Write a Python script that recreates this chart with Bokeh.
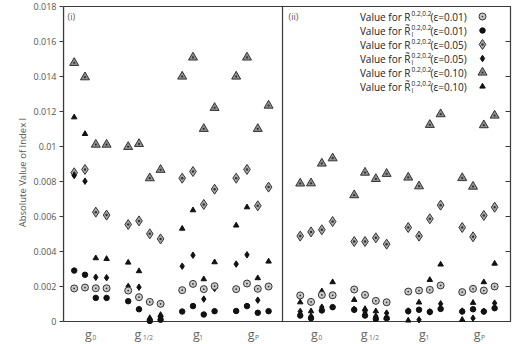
from bokeh.plotting import figure
from bokeh.models import Range1d, FixedTicker, Label
from bokeh.embed import file_html
from bokeh.resources import INLINE

# ---- data -------------------------------------------------------------
group_names = ["0", "1/2", "1", "P"]
y_ticks = [0, 0.002, 0.004, 0.006, 0.008, 0.01, 0.012, 0.014, 0.016, 0.018]
y_tick_labels = ["0", "0.002", "0.004", "0.006", "0.008", "0.01",
                 "0.012", "0.014", "0.016", "0.018"]

# panel (i): four points per group (g0, g1/2, g1, gP)
i_R_001 = [0.00189, 0.00194, 0.00190, 0.00190, 0.00177, 0.00139, 0.00112, 0.00101,
           0.00179, 0.00215, 0.00185, 0.00202, 0.00185, 0.00217, 0.00187, 0.00200]
i_Rt_001 = [0.00291, 0.00267, 0.00135, 0.00135, 0.00116, 0.00070, 0.00003, 0.00010,
            0.00057, 0.00088, 0.00040, 0.00059, 0.00060, 0.00088, 0.00050, 0.00059]
i_R_005 = [0.00850, 0.00869, 0.00625, 0.00608, 0.00554, 0.00575, 0.00501, 0.00472,
           0.00819, 0.00857, 0.00669, 0.00756, 0.00819, 0.00869, 0.00661, 0.00768]
i_Rt_005 = [0.00834, 0.00802, 0.00253, 0.00250, 0.00200, 0.00196, 0.00010, 0.00025,
            0.00316, 0.00379, 0.00128, 0.00189, 0.00328, 0.00381, 0.00122, 0.00200]
i_R_010 = [0.01478, 0.01396, 0.01011, 0.01011, 0.00998, 0.01015, 0.00819, 0.00867,
           0.01400, 0.01509, 0.01101, 0.01221, 0.01400, 0.01509, 0.01101, 0.01234]
i_Rt_010 = [0.01167, 0.01072, 0.00362, 0.00358, 0.00337, 0.00288, 0.00020, 0.00038,
            0.00531, 0.00636, 0.00242, 0.00339, 0.00549, 0.00653, 0.00248, 0.00343]

# panel (ii)
ii_R_001 = [0.00149, 0.00112, 0.00152, 0.00150, 0.00183, 0.00152, 0.00118, 0.00110,
            0.00171, 0.00177, 0.00181, 0.00206, 0.00168, 0.00187, 0.00177, 0.00200]
ii_Rt_001 = [0.00034, 0.00019, 0.00063, 0.00082, 0.00067, 0.00034, 0.00015, 0.00019,
             0.00059, 0.00067, 0.00055, 0.00072, 0.00057, 0.00070, 0.00057, 0.00076]
ii_R_005 = [0.00488, 0.00512, 0.00524, 0.00571, 0.00457, 0.00457, 0.00478, 0.00442,
            0.00537, 0.00488, 0.00587, 0.00665, 0.00537, 0.00484, 0.00606, 0.00653]
ii_Rt_005 = [0.00057, 0.00030, 0.00082, 0.00148, 0.00070, 0.00055, 0.00030, 0.00048,
             0.00060, 0.00010, 0.00055, 0.00101, 0.00060, 0.00019, 0.00058, 0.00105]
ii_R_010 = [0.00789, 0.00790, 0.00903, 0.00933, 0.00722, 0.00851, 0.00815, 0.00844,
            0.00823, 0.00773, 0.01124, 0.01185, 0.00820, 0.00771, 0.01122, 0.01177]
ii_Rt_010 = [0.00110, 0.00059, 0.00173, 0.00225, 0.00124, 0.00072, 0.00059, 0.00020,
             0.00006, 0.00109, 0.00238, 0.00326, 0.00010, 0.00107, 0.00225, 0.00331]

# ---- layout -----------------------------------------------------------
W, H = 513, 344
BL, BR, BT, BB = 63, 510, 6, 321           # plot box edges in pixels
X0, X1 = -0.99, 40.4                       # x data values at the box edges
Y0, Y1 = 0.0, 0.018
PANEL_SHIFT = [0.0, 20.93]                 # x offset of each panel
GROUP_STEP = 5
DIVIDER = 19.29
# horizontal nudges (x units) of the "g" and of its subscript per group
G_NUDGE = [-0.19, -0.59, -0.19, -0.11]
SUB_NUDGE = [0.37, 0.33, 0.26, 0.43]

FONT = "Open Sans"
GREY = "#555555"
LINE = "#3a3a3a"


def px_x(px):
    return X0 + (px - BL) * (X1 - X0) / (BR - BL)


def px_y(py):
    return Y0 + (BB - py) * (Y1 - Y0) / (BB - BT)


def positions(panel):
    return [PANEL_SHIFT[panel] + GROUP_STEP * g + k
            for g in range(len(group_names)) for k in range(4)]


# the frame runs from the y axis to the right/top/bottom canvas edges,
# the plot box itself is drawn inside it
p = figure(width=W, height=H, output_backend="svg", toolbar_location=None,
           x_range=Range1d(X0, px_x(W)), y_range=Range1d(px_y(H), px_y(0)),
           x_axis_location=None,
           min_border_left=BL, min_border_right=0,
           min_border_top=0, min_border_bottom=0)
p.xgrid.visible = False
p.ygrid.visible = False
p.outline_line_color = None
p.background_fill_color = "white"
p.border_fill_color = "white"

ya = p.yaxis[0]
ya.bounds = (Y0, Y1)
ya.ticker = FixedTicker(ticks=y_ticks)
ya.major_label_overrides = {t: s for t, s in zip(y_ticks, y_tick_labels)}
ya.minor_tick_line_color = None
ya.major_tick_in = 0
ya.major_tick_out = 4
ya.axis_line_color = LINE
ya.axis_line_width = 1.2
ya.major_tick_line_color = LINE
ya.major_label_text_font = FONT
ya.major_label_text_font_size = "9px"
ya.major_label_text_color = GREY
ya.major_label_standoff = 3
ya.axis_label = "Absolute Value of Index I"
ya.axis_label_text_font = FONT
ya.axis_label_text_font_size = "9.5px"
ya.axis_label_text_font_style = "normal"
ya.axis_label_text_color = GREY
ya.axis_label_standoff = 2

# plot box, panel divider and inward ticks on the right edge
p.quad(left=[X0], right=[X1], bottom=[Y0], top=[Y1],
       fill_color=None, line_color=LINE, line_width=1.2)
p.segment(x0=[DIVIDER], y0=[Y0], x1=[DIVIDER], y1=[Y1],
          line_color=LINE, line_width=1.2)
p.segment(x0=[px_x(BR - 5)] * len(y_ticks), y0=y_ticks,
          x1=[X1] * len(y_ticks), y1=y_ticks, line_color=LINE, line_width=1)

# marker styles per series: (marker, size, fill, line)
styles = {
    "R_001": ("circle_dot", 7, "#c9c9c9", "#333333"),
    "Rt_001": ("circle", 5.5, "#111111", "#111111"),
    "R_005": ("diamond_dot", 10, "#a8a8a8", "#333333"),
    "Rt_005": ("diamond", 6.5, "#111111", "#111111"),
    "R_010": ("triangle_dot", 9, "#8f8f8f", "#333333"),
    "Rt_010": ("triangle", 5.5, "#111111", "#111111"),
}
order = ["R_010", "Rt_010", "R_005", "Rt_005", "R_001", "Rt_001"]
series = {
    0: {"R_001": i_R_001, "Rt_001": i_Rt_001, "R_005": i_R_005,
        "Rt_005": i_Rt_005, "R_010": i_R_010, "Rt_010": i_Rt_010},
    1: {"R_001": ii_R_001, "Rt_001": ii_Rt_001, "R_005": ii_R_005,
        "Rt_005": ii_Rt_005, "R_010": ii_R_010, "Rt_010": ii_Rt_010},
}

for panel in (0, 1):
    xs = positions(panel)
    for key in order:
        m, s, fc, lc = styles[key]
        p.scatter(xs, series[panel][key], marker=m, size=s,
                  fill_color=fc, line_color=lc, line_width=1)

# group labels: g with a subscript under each group
for panel in (0, 1):
    for g, name in enumerate(group_names):
        cx = PANEL_SHIFT[panel] + GROUP_STEP * g + 1.5
        p.add_layout(Label(x=cx + G_NUDGE[g], y=px_y(334), text="g",
                           text_font=FONT, text_font_size="12.5px",
                           text_color="#666666", text_align="center",
                           text_baseline="alphabetic"))
        p.add_layout(Label(x=cx + SUB_NUDGE[g], y=px_y(336.5), text=name,
                           text_font=FONT, text_font_size="6.5px",
                           text_color="#666666", text_align="center",
                           text_baseline="alphabetic"))

# panel tags
p.add_layout(Label(x=px_x(67), y=px_y(16), text="(i)", text_font=FONT,
                   text_font_size="9px", text_color=GREY, text_baseline="middle"))
p.add_layout(Label(x=px_x(288), y=px_y(16), text="(ii)", text_font=FONT,
                   text_font_size="9px", text_color=GREY, text_baseline="middle"))

# legend
eps = ["0.01", "0.01", "0.05", "0.05", "0.10", "0.10"]
leg_keys = ["R_001", "Rt_001", "R_005", "Rt_005", "R_010", "Rt_010"]
row_y = [16, 30, 44, 58, 72, 86]
A = 411     # pixel x where the superscript starts
SUP_W = 19
for key, e, ry in zip(leg_keys, eps, row_y):
    tilde = key.startswith("Rt")
    main = "Value for R\u0303" if tilde else "Value for R"
    p.add_layout(Label(x=px_x(A - 1), y=px_y(ry), text=main, text_font=FONT,
                       text_font_size="10px", text_color="#222222",
                       text_align="right", text_baseline="middle"))
    p.add_layout(Label(x=px_x(A), y=px_y(ry - 3.5), text="0.2,0.2", text_font=FONT,
                       text_font_size="6.5px", text_color="#222222",
                       text_align="left", text_baseline="middle"))
    if tilde:
        p.add_layout(Label(x=px_x(A), y=px_y(ry + 3.5), text="I", text_font=FONT,
                           text_font_size="6.5px", text_color="#222222",
                           text_align="left", text_baseline="middle"))
    p.add_layout(Label(x=px_x(A + SUP_W), y=px_y(ry), text="(\u03b5=" + e + ")",
                       text_font=FONT, text_font_size="10px", text_color="#222222",
                       text_align="left", text_baseline="middle"))
    m, s, fc, lc = styles[key]
    p.scatter([px_x(482)], [px_y(ry)], marker=m, size=s,
              fill_color=fc, line_color=lc, line_width=1)

open("out.html", "w").write(file_html(p, INLINE))
